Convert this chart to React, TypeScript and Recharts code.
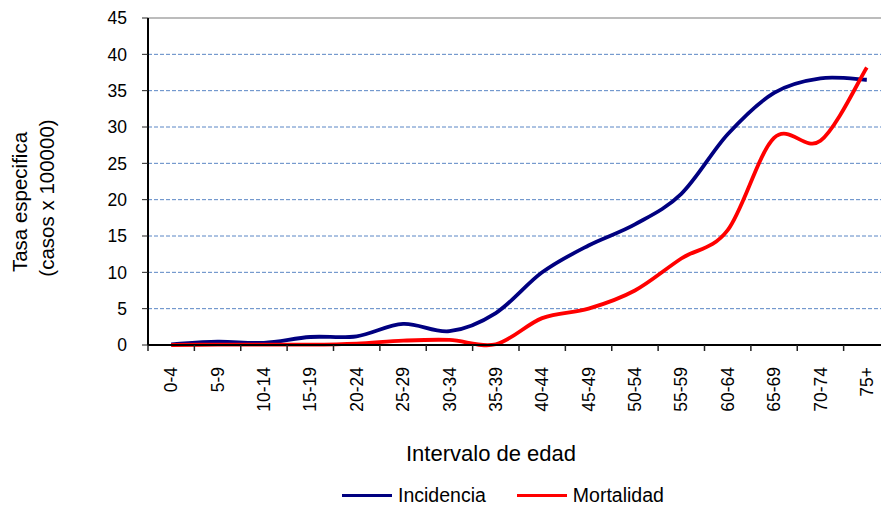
import React from "react";
import { LineChart, Line, XAxis, YAxis, CartesianGrid, ReferenceLine } from "recharts";

const AGE_GROUPS = ["0-4", "5-9", "10-14", "15-19", "20-24", "25-29", "30-34", "35-39", "40-44", "45-49", "50-54", "55-59", "60-64", "65-69", "70-74", "75+"];
const INCIDENCIA = [0.1, 0.45, 0.3, 1.1, 1.2, 2.9, 1.9, 4.4, 10.0, 13.7, 16.6, 20.8, 29.0, 34.7, 36.7, 36.5];
const MORTALIDAD = [0, 0.05, 0.05, 0.05, 0.2, 0.6, 0.7, 0.1, 3.7, 5.0, 7.5, 11.9, 15.8, 28.5, 28.1, 38.2];
const Y_TICKS = [0, 5, 10, 15, 20, 25, 30, 35, 40, 45];
const GRID_VALUES = [5, 10, 15, 20, 25, 30, 35, 40];

const data = AGE_GROUPS.map((grupo, i) => ({
  grupo,
  incidencia: INCIDENCIA[i],
  mortalidad: MORTALIDAD[i],
}));

const FONT = '"Liberation Sans", Arial, sans-serif';
const PLOT_W = 742;
const HALF_STEP = PLOT_W / 32; // half a category width

// excel-like smoothing (catmull-rom through every point)
function excelSmooth(context: any) {
  let pts: number[][] = [];
  return {
    areaStart() {},
    areaEnd() {},
    lineStart() {
      pts = [];
    },
    point(x: number, y: number) {
      pts.push([+x, +y]);
    },
    lineEnd() {
      if (!pts.length) return;
      context.moveTo(pts[0][0], pts[0][1]);
      for (let i = 0; i < pts.length - 1; i++) {
        const p0 = pts[Math.max(i - 1, 0)];
        const p1 = pts[i];
        const p2 = pts[i + 1];
        const p3 = pts[Math.min(i + 2, pts.length - 1)];
        context.bezierCurveTo(
          p1[0] + (p2[0] - p0[0]) / 6,
          p1[1] + (p2[1] - p0[1]) / 6,
          p2[0] - (p3[0] - p1[0]) / 6,
          p2[1] - (p3[1] - p1[1]) / 6,
          p2[0],
          p2[1]
        );
      }
    },
  };
}

function AgeTick(props: any) {
  const { x, y, payload } = props;
  return (
    <g>
      <line x1={x - HALF_STEP} x2={x - HALF_STEP} y1={y} y2={y + 6} stroke="#222" strokeWidth={1.5} />
      <text
        transform={`translate(${x},${y + 22}) rotate(-90)`}
        textAnchor="end"
        dy="0.35em"
        fontSize={17.5}
        fontFamily={FONT}
        fill="#000"
      >
        {payload.value}
      </text>
    </g>
  );
}

function XTitle() {
  return (
    <text x={491} y={461} textAnchor="middle" fontSize={22} fontFamily={FONT} fill="#000">
      Intervalo de edad
    </text>
  );
}

function YTitle() {
  return (
    <g fontSize={20.5} fontFamily={FONT} fill="#000">
      <text transform="translate(20,202) rotate(-90)" textAnchor="middle" dy="0.35em">
        Tasa especifica
      </text>
      <text transform="translate(47,198) rotate(-90)" textAnchor="middle" dy="0.35em">
        (casos x 100000)
      </text>
    </g>
  );
}

function LegendItem({ color, text }: { color: string; text: string }) {
  return (
    <div style={{ display: "flex", alignItems: "center" }}>
      <div style={{ width: 50, height: 3, background: color, marginRight: 6 }} />
      <span style={{ fontSize: 19.5, fontFamily: FONT, color: "#000" }}>{text}</span>
    </div>
  );
}

export default function App() {
  return (
    <div style={{ position: "absolute", left: 0, top: 0, width: 881, height: 508, overflow: "hidden", background: "#fff" }}>
      <LineChart width={900} height={508} data={data} margin={{ top: 18, right: 10, bottom: 0, left: 0 }}>
        <CartesianGrid vertical={false} horizontalValues={GRID_VALUES} stroke="#5b86c5" strokeDasharray="4 2" />
        <ReferenceLine y={45} stroke="#a6a6a6" strokeWidth={1.5} />
        <XAxis
          dataKey="grupo"
          height={163}
          interval={0}
          padding={{ left: HALF_STEP, right: HALF_STEP }}
          axisLine={{ stroke: "#000", strokeWidth: 2 }}
          tickLine={false}
          tickSize={0}
          tickMargin={0}
          tick={<AgeTick />}
          label={<XTitle />}
        />
        <YAxis
          width={148}
          domain={[0, 45]}
          ticks={Y_TICKS}
          interval={0}
          axisLine={{ stroke: "#000", strokeWidth: 2 }}
          tickLine={{ stroke: "#222" }}
          tickSize={6}
          tickMargin={15}
          tick={{ fontSize: 17.5, fontFamily: FONT, fill: "#000" }}
          label={<YTitle />}
        />
        <Line dataKey="incidencia" type={excelSmooth as any} stroke="#000080" strokeWidth={3.8} dot={false} activeDot={false} isAnimationActive={false} />
        <Line dataKey="mortalidad" type={excelSmooth as any} stroke="#ff0000" strokeWidth={3.8} dot={false} activeDot={false} isAnimationActive={false} />
      </LineChart>
      <div style={{ position: "absolute", left: 342, top: 484, display: "flex", alignItems: "center", gap: 31 }}>
        <LegendItem color="#000080" text="Incidencia" />
        <LegendItem color="#ff0000" text="Mortalidad" />
      </div>
    </div>
  );
}
